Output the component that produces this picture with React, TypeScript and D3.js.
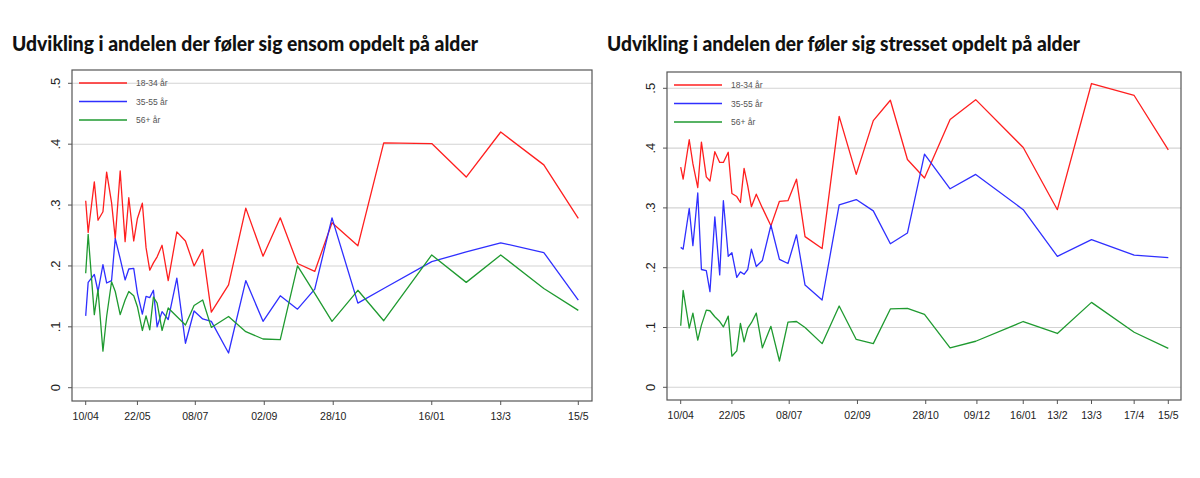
import React from "react";
import * as d3 from "d3";

const dates = [
  "2020-04-10","2020-04-12","2020-04-17","2020-04-20","2020-04-24","2020-04-27","2020-05-01","2020-05-04",
  "2020-05-08","2020-05-12","2020-05-15","2020-05-19","2020-05-22","2020-05-26","2020-05-29","2020-06-01",
  "2020-06-04","2020-06-07","2020-06-11","2020-06-16","2020-06-23","2020-06-30","2020-07-07","2020-07-14",
  "2020-07-21","2020-08-04","2020-08-18","2020-09-01","2020-09-15","2020-09-29","2020-10-13","2020-10-27",
  "2020-11-17","2020-12-08","2021-01-16","2021-02-13","2021-03-13","2021-04-17","2021-05-15",
];

const seriesNames = ["18-34 år", "35-55 år", "56+ år"];

const lonelyYoung = [0.307,0.255,0.338,0.275,0.289,0.354,0.304,0.245,0.356,0.240,0.312,0.241,0.278,0.303,0.230,0.193,0.205,0.215,0.234,0.176,0.256,0.241,0.200,0.227,0.124,0.169,0.295,0.216,0.279,0.204,0.191,0.271,0.233,0.402,0.401,0.346,0.420,0.366,0.278];
const lonelyMid = [0.118,0.173,0.186,0.158,0.202,0.172,0.176,0.245,0.212,0.177,0.195,0.196,0.155,0.121,0.150,0.148,0.160,0.100,0.125,0.112,0.180,0.073,0.126,0.113,0.109,0.057,0.176,0.109,0.151,0.129,0.162,0.279,0.139,0.163,0.207,0.223,0.238,0.222,0.144];
const lonelyOld = [0.188,0.252,0.120,0.161,0.060,0.117,0.174,0.158,0.120,0.144,0.158,0.151,0.133,0.094,0.118,0.095,0.149,0.139,0.094,0.131,0.117,0.103,0.135,0.144,0.099,0.117,0.092,0.080,0.079,0.200,0.155,0.109,0.160,0.110,0.218,0.173,0.218,0.163,0.127];

const stressYoung = [0.368,0.348,0.414,0.374,0.334,0.410,0.352,0.345,0.394,0.376,0.376,0.393,0.324,0.319,0.309,0.366,0.337,0.302,0.323,0.300,0.270,0.311,0.312,0.348,0.252,0.232,0.453,0.356,0.446,0.480,0.381,0.350,0.448,0.481,0.401,0.297,0.508,0.488,0.397];
const stressMid = [0.234,0.231,0.299,0.237,0.325,0.197,0.195,0.160,0.285,0.188,0.312,0.219,0.225,0.184,0.193,0.189,0.197,0.231,0.202,0.212,0.271,0.214,0.207,0.255,0.171,0.146,0.305,0.314,0.295,0.240,0.258,0.390,0.332,0.356,0.297,0.219,0.247,0.221,0.217];
const stressOld = [0.103,0.162,0.099,0.124,0.079,0.104,0.129,0.128,0.118,0.110,0.101,0.119,0.052,0.061,0.107,0.076,0.099,0.108,0.124,0.066,0.102,0.044,0.109,0.110,0.100,0.073,0.136,0.080,0.073,0.131,0.132,0.122,0.066,0.077,0.110,0.090,0.142,0.092,0.065];

const yTicks = [0, 0.1, 0.2, 0.3, 0.4, 0.5];
const yTickLabels = ["0", ".1", ".2", ".3", ".4", ".5"];

const leftTickDates = ["2020-04-10","2020-05-22","2020-07-08","2020-09-02","2020-10-28","2021-01-16","2021-03-13","2021-05-15"];
const leftTickLabels = ["10/04","22/05","08/07","02/09","28/10","16/01","13/3","15/5"];
const rightTickDates = ["2020-04-10","2020-05-22","2020-07-08","2020-09-02","2020-10-28","2020-12-09","2021-01-16","2021-02-13","2021-03-13","2021-04-17","2021-05-15"];
const rightTickLabels = ["10/04","22/05","08/07","02/09","28/10","09/12","16/01","13/2","13/3","17/4","15/5"];

const titles = [
  "Udvikling i andelen der føler sig ensom opdelt på alder",
  "Udvikling i andelen der føler sig stresset opdelt på alder",
];

const colors = ["#ff1f1f", "#2f2fff", "#1f9a30"];
const parse = d3.utcParse("%Y-%m-%d");

type Layout = {
  boxL: number; boxR: number; boxT: number; boxB: number;
  x0: number; x1: number; yZero: number; yFive: number;
  titleX: number; titleW: number;
};

function Chart({ layout, series, tickDates, tickLabels, title }: {
  layout: Layout; series: number[][]; tickDates: string[]; tickLabels: string[]; title: string;
}) {
  const L = layout;
  const dts = dates.map((d) => parse(d) as Date);
  const x = d3.scaleUtc().domain([parse(dates[0]) as Date, parse(dates[dates.length - 1]) as Date]).range([L.x0, L.x1]);
  const y = d3.scaleLinear().domain([0, 0.5]).range([L.yZero, L.yFive]);
  const line = d3.line<number>().x((_, i) => x(dts[i])).y((v) => y(v));
  const legendX = L.boxL + 7;
  return (
    <g>
      <text x={L.titleX} y={51} fontFamily="Lato, 'DejaVu Sans', sans-serif" fontWeight={900} fontSize={20}
        fill="#111" textLength={L.titleW} lengthAdjust="spacingAndGlyphs">{title}</text>
      {yTicks.map((t) => (
        <line key={"g" + t} x1={L.boxL} x2={L.boxR} y1={y(t)} y2={y(t)} stroke="#d3d3d3" strokeWidth={1.1} />
      ))}
      {series.map((s, i) => (
        <path key={"s" + i} d={line(s) || ""} fill="none" stroke={colors[i]} strokeWidth={1.3} strokeLinejoin="round" />
      ))}
      {seriesNames.map((n, i) => (
        <g key={"lg" + i}>
          <line x1={legendX} x2={legendX + 48} y1={L.boxT + 13 + i * 18.5} y2={L.boxT + 13 + i * 18.5} stroke={colors[i]} strokeWidth={1.3} />
          <text x={legendX + 57} y={L.boxT + 16 + i * 18.5} fontFamily="'Liberation Sans', Arial, sans-serif" fontSize={8.5} fill="#555">{n}</text>
        </g>
      ))}
      <rect x={L.boxL} y={L.boxT} width={L.boxR - L.boxL} height={L.boxB - L.boxT} fill="none" stroke="#555" strokeWidth={1.2} />
      {yTicks.map((t, i) => (
        <g key={"yt" + t}>
          <line x1={L.boxL - 4} x2={L.boxL} y1={y(t)} y2={y(t)} stroke="#555" strokeWidth={1} />
          <text transform={`translate(${L.boxL - 12},${y(t)}) rotate(-90)`} textAnchor="middle"
            fontFamily="'Liberation Sans', Arial, sans-serif" fontSize={13} fill="#222">{yTickLabels[i]}</text>
        </g>
      ))}
      {tickDates.map((d, i) => {
        const px = x(parse(d) as Date);
        return (
          <g key={"xt" + d}>
            <line x1={px} x2={px} y1={L.boxB} y2={L.boxB + 4} stroke="#555" strokeWidth={1} />
            <text x={px} y={L.boxB + 19} textAnchor="middle" fontFamily="'Liberation Sans', Arial, sans-serif"
              fontSize={10.5} fill="#222">{tickLabels[i]}</text>
          </g>
        );
      })}
    </g>
  );
}

const leftLayout: Layout = { boxL: 72, boxR: 592, boxT: 70, boxB: 401, x0: 85.7, x1: 578.3, yZero: 387.7, yFive: 83.3, titleX: 12, titleW: 466 };
const rightLayout: Layout = { boxL: 667, boxR: 1181, boxT: 72, boxB: 400, x0: 680.7, x1: 1168.3, yZero: 387.3, yFive: 88.3, titleX: 607, titleW: 473 };

export default function App() {
  return (
    <svg width={1200} height={478} style={{ position: "absolute", left: 0, top: 0, background: "#fff" }}>
      <rect width={1200} height={478} fill="#fff" />
      <Chart layout={leftLayout} series={[lonelyYoung, lonelyMid, lonelyOld]} tickDates={leftTickDates} tickLabels={leftTickLabels} title={titles[0]} />
      <Chart layout={rightLayout} series={[stressYoung, stressMid, stressOld]} tickDates={rightTickDates} tickLabels={rightTickLabels} title={titles[1]} />
    </svg>
  );
}
